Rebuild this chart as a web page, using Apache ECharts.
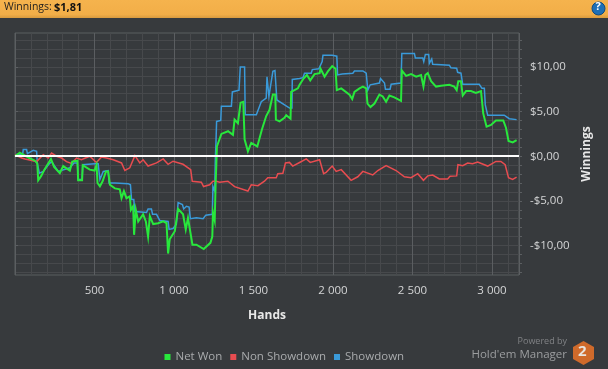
<!DOCTYPE html>
<html><head><meta charset="utf-8">
<style>html,body{margin:0;padding:0;background:#373a3d}#c{width:608px;height:369px}</style>
<script src="https://cdn.jsdelivr.net/npm/echarts@6/dist/echarts.min.js"></script>
</head><body><div id="c"></div>
<script>
const netWon=[[0,0],[30,.4],[60,.1],[90,-.2],[125,-.5],[140,-.8],[146,-2.7],[165,-2.2],[185,-1.5],[226,-.3],[246,-1.2],[282,-1.9],[303,-1.1],[345,-1.6],[360,-.6],[393,-.5],[397,-2.7],[422,-2.7],[426,-1],[470,-1.5],[500,-1.6],[513,-.95],[519,-3],[534,-3.37],[551,-2.8],[572,-1.7],[586,-1.7],[597,-3.2],[628,-3.6],[659,-3.7],[670,-4.7],[685,-3.9],[701,-4.7],[722,-4.5],[729,-6],[743,-5.6],[749,-8.8],[760,-6],[775,-7.3],[806,-6.5],[823,-7.3],[837,-9],[848,-6.7],[869,-7.6],[900,-7.5],[932,-7.3],[953,-7.5],[963,-10.9],[973,-9.3],[1005,-8.4],[1026,-5.9],[1057,-6.5],[1074,-8.2],[1088,-6.9],[1116,-9.9],[1141,-9.9],[1187,-10.4],[1229,-9.7],[1241,-9],[1245,-6.3],[1256,-7.2],[1262,-3],[1266,-1.1],[1270,1.1],[1298,2.5],[1340,2.8],[1371,2.4],[1381,4.1],[1402,3.7],[1419,6],[1436,6.1],[1444,1.9],[1465,.55],[1486,1.5],[1524,1.1],[1553,3],[1580,4.5],[1601,5.2],[1622,6.9],[1637,6.9],[1641,4.1],[1664,3.9],[1695,4.3],[1706,4.6],[1733,4.2],[1737,7.2],[1779,7.6],[1790,8],[1815,8.7],[1836,9.1],[1857,8.5],[1884,9.2],[1916,9.3],[1922,9.8],[1947,8.9],[1968,9.5],[1995,10.1],[2016,9.8],[2024,7.4],[2052,7.6],[2104,6.9],[2121,6.4],[2135,7.2],[2167,7.6],[2188,7.8],[2209,7.6],[2217,5.9],[2236,5.5],[2261,5.9],[2292,6.9],[2313,6.7],[2334,6.1],[2355,6.8],[2386,6.6],[2428,6.2],[2433,9.6],[2460,9],[2491,9.2],[2523,8.9],[2554,9.1],[2569,7.8],[2581,9.1],[2596,9.3],[2617,8.4],[2648,7.8],[2680,7.9],[2732,8],[2763,7.8],[2778,7.4],[2788,8.4],[2805,8.4],[2816,6.8],[2837,7.3],[2868,7.3],[2899,7.1],[2931,7.3],[2945,4.8],[2966,3.3],[2994,3.5],[3025,4],[3071,4],[3088,3.2],[3104,1.7],[3130,1.55],[3155,1.81]];
const nonShowdown=[[0,.17],[42,-.2],[63,-.3],[105,-.47],[136,-.6],[178,.17],[209,-.2],[230,.35],[261,0],[293,-.2],[324,-.6],[355,-.8],[387,-.2],[418,-.4],[470,0],[512,-.7],[543,-.1],[575,-.2],[618,-.4],[670,-.75],[691,-1.6],[722,-1.3],[754,.07],[785,-.75],[806,-.4],[837,-1.1],[890,-.75],[932,-.3],[963,-.9],[994,-.56],[1057,-.9],[1105,-1.5],[1115,-2.8],[1172,-2.9],[1186,-3.4],[1224,-3.2],[1245,-2.8],[1266,-2.8],[1287,-2.9],[1339,-2.8],[1381,-3.4],[1465,-3.9],[1486,-3.2],[1528,-3.3],[1569,-2.8],[1590,-2.4],[1643,-2.4],[1653,-1.95],[1685,-1.9],[1701,-.76],[1726,-.69],[1747,-1.1],[1790,-.7],[1832,-.3],[1857,-.69],[1916,-.39],[1941,-1.95],[1957,-1.8],[1995,-1.1],[2020,-1.7],[2052,-1.5],[2114,-2.7],[2156,-2.3],[2188,-1.7],[2250,-2.1],[2282,-1.6],[2334,-1.06],[2397,-1.6],[2449,-2.3],[2491,-2.4],[2533,-1.95],[2569,-2.7],[2596,-2.2],[2627,-2.1],[2669,-2.55],[2721,-2.55],[2736,-2.25],[2778,-2.2],[2786,-.95],[2816,-1.06],[2847,-.76],[2878,-.84],[2910,-.65],[2973,-1.1],[3025,-.58],[3056,-.58],[3083,-.95],[3104,-2.4],[3130,-2.6],[3155,-2.35]];
const showdown=[[6,.2],[48,.2],[52,.74],[73,.74],[78,.3],[115,.67],[136,.55],[140,-.75],[153,-1.9],[178,-1.7],[210,-.95],[230,-.6],[272,-1.7],[345,-1.3],[371,-.76],[392,-.76],[398,-2.6],[422,-2.6],[426,-.95],[502,-.84],[523,-.84],[534,-2.6],[544,-2.4],[555,-1.7],[586,-1.6],[592,-3],[628,-3],[712,-3.07],[726,-3.2],[733,-4.85],[747,-4.85],[754,-6.2],[827,-6.3],[837,-5.9],[858,-5.9],[865,-6.5],[890,-6.5],[911,-7.2],[963,-7.3],[969,-8.2],[994,-8.1],[1015,-7.6],[1026,-5.2],[1053,-5.4],[1061,-5.9],[1078,-5.6],[1095,-5.7],[1103,-7],[1141,-6.9],[1183,-7],[1200,-6.6],[1241,-6.5],[1245,-3.4],[1256,-3.9],[1260,-.4],[1264,1.5],[1268,3.9],[1294,4],[1298,5.6],[1361,5.6],[1367,7.2],[1409,7.4],[1417,10],[1444,10],[1448,4.65],[1518,4.65],[1549,6.1],[1580,6.5],[1585,8.9],[1597,6.7],[1622,9.5],[1635,9.6],[1647,6.3],[1727,5.4],[1742,5.4],[1744,8.6],[1790,8.7],[1811,8.8],[1821,9.3],[1863,9.3],[1870,9.7],[1911,9.8],[1932,10.6],[1937,11.3],[1995,11.3],[2000,11.2],[2024,11.2],[2029,9.1],[2058,9.2],[2125,9.3],[2135,9.55],[2188,9.55],[2209,9.3],[2219,7.4],[2234,8],[2292,8.2],[2299,8.7],[2324,8.2],[2330,7.5],[2359,7.5],[2366,8.06],[2428,8.2],[2433,11.5],[2512,11.5],[2518,11],[2565,11],[2571,10.6],[2581,11.4],[2602,11.4],[2606,10.4],[2621,10.9],[2627,10.3],[2732,10.2],[2742,9.9],[2778,9.85],[2784,9.4],[2805,9.3],[2816,8.06],[2920,8.06],[2937,7.6],[2952,7.6],[2958,5.75],[2973,4.6],[3046,4.6],[3056,4.8],[3077,4.6],[3109,4.2],[3155,4.1]];
const yMajorTicks=[-10,-5,0,5,10];
const yMinorTicks=[-13,-12,-11,-10,-9,-8,-7,-6,-5,-4,-3,-2,-1,0,1,2,3,4,5,6,7,8,9,10,11,12,13];
const FONT='"Open Sans"';
const MAJOR='#5b5e61', MINOR='#47494c';
const fmt=v=>(v<0?'-':'')+'$'+Math.abs(v)+',00';
const chart=echarts.init(document.getElementById('c'),null,{renderer:'canvas'});
function line(name,data,color,width,z,extra){return Object.assign({name,type:'line',data,showSymbol:false,symbol:'none',z,lineStyle:{color,width,join:'miter'},itemStyle:{color},animation:false,silent:true},extra||{});}
chart.setOption({
 animation:false,backgroundColor:'#373a3d',
 grid:{left:15,right:89,top:33,bottom:94,show:true,borderColor:MAJOR,borderWidth:1,backgroundColor:'transparent'},
 legend:{left:159.5,top:346,itemWidth:6,itemHeight:6,itemGap:8,icon:'rect',selectedMode:false,textStyle:{color:'#a9abad',fontFamily:FONT,fontSize:11.5},data:['Net Won','Non Showdown','Showdown']},
 xAxis:{type:'value',min:0,max:3170,interval:500,name:'Hands',nameLocation:'middle',nameGap:35,nameTextStyle:{color:'#e8e8e8',fontWeight:'bold',fontFamily:FONT,fontSize:12},
  axisLine:{lineStyle:{color:MAJOR}},axisTick:{show:true,length:4,lineStyle:{color:MAJOR}},minorTick:{show:true,splitNumber:5,length:4,lineStyle:{color:MAJOR}},
  splitLine:{show:true,lineStyle:{color:MAJOR,width:1}},minorSplitLine:{show:true,lineStyle:{color:MINOR,width:1}},
  axisLabel:{color:'#d4d5d6',fontFamily:FONT,fontSize:11.5,margin:10,showMinLabel:false,showMaxLabel:false,formatter:v=>v>=1000?Math.floor(v/1000)+' '+String(v%1000).padStart(3,'0'):String(v)}},
 yAxis:[
  {type:'value',position:'right',min:-13.3,max:13.8,name:'Winnings',nameLocation:'middle',nameGap:58,nameRotate:90,nameTextStyle:{color:'#e8e8e8',fontWeight:'bold',fontFamily:FONT,fontSize:12},
   axisLine:{show:false},axisTick:{show:true,length:3,customValues:yMajorTicks,lineStyle:{color:MAJOR}},
   splitLine:{show:true,lineStyle:{color:MAJOR,width:1}},
   axisLabel:{color:'#d4d5d6',fontFamily:FONT,fontSize:11.5,margin:11,customValues:yMajorTicks,formatter:fmt}},
  {type:'value',position:'right',min:-13.3,max:13.8,axisLine:{show:false},axisLabel:{show:false},
   axisTick:{show:true,length:3,customValues:yMinorTicks,lineStyle:{color:MAJOR}},
   splitLine:{show:true,lineStyle:{color:MINOR,width:1}}}
 ],
 series:[
  line('Net Won',netWon,'#28e83c',2,5),
  line('Non Showdown',nonShowdown,'#e84c50',1.5,4),
  line('Showdown',showdown,'#3a9ad9',1.5,3,{markLine:{silent:true,symbol:'none',z:10,label:{show:false},animation:false,lineStyle:{color:'#ffffff',width:2,type:'solid'},data:[{yAxis:0}]}})
 ],
 graphic:[
  {type:'rect',z:20,shape:{x:0,y:0,width:608,height:18},style:{fill:{type:'linear',x:0,y:0,x2:0,y2:1,colorStops:[{offset:0,color:'#f5b34d'},{offset:.8,color:'#f2ae48'},{offset:1,color:'#d89a3f'}]}}},
  {type:'text',z:21,left:4,top:2,style:{text:'Winnings:',fill:'#1f1f1f',font:'10.5px '+FONT}},
  {type:'text',z:21,left:54,top:2,style:{text:'$1,81',fill:'#111',font:'bold 11px '+FONT}},
  {type:'circle',z:21,shape:{cx:598.5,cy:8.5,r:6.5},style:{fill:'#1f6fb5',stroke:'#0e4a80',lineWidth:1}},
  {type:'text',z:22,left:595.5,top:1.5,style:{text:'?',fill:'#fff',font:'bold 11px '+FONT}},
  {type:'text',z:21,right:41,top:337,style:{text:'Powered by',fill:'#808285',font:'9px '+FONT}},
  {type:'text',z:21,right:41,top:349,style:{text:"Hold'em Manager",fill:'#9c9ea0',font:'11.5px '+FONT}},
  {type:'polygon',z:21,shape:{points:[[583.5,341],[594,347],[594,359],[583.5,365],[573,359],[573,347]]},style:{fill:'#cf6a2b'}},
  {type:'text',z:22,left:578,top:344,style:{text:'2',fill:'#e8e4df',font:'bold 15px '+FONT}}
 ]
});
</script></body></html>
